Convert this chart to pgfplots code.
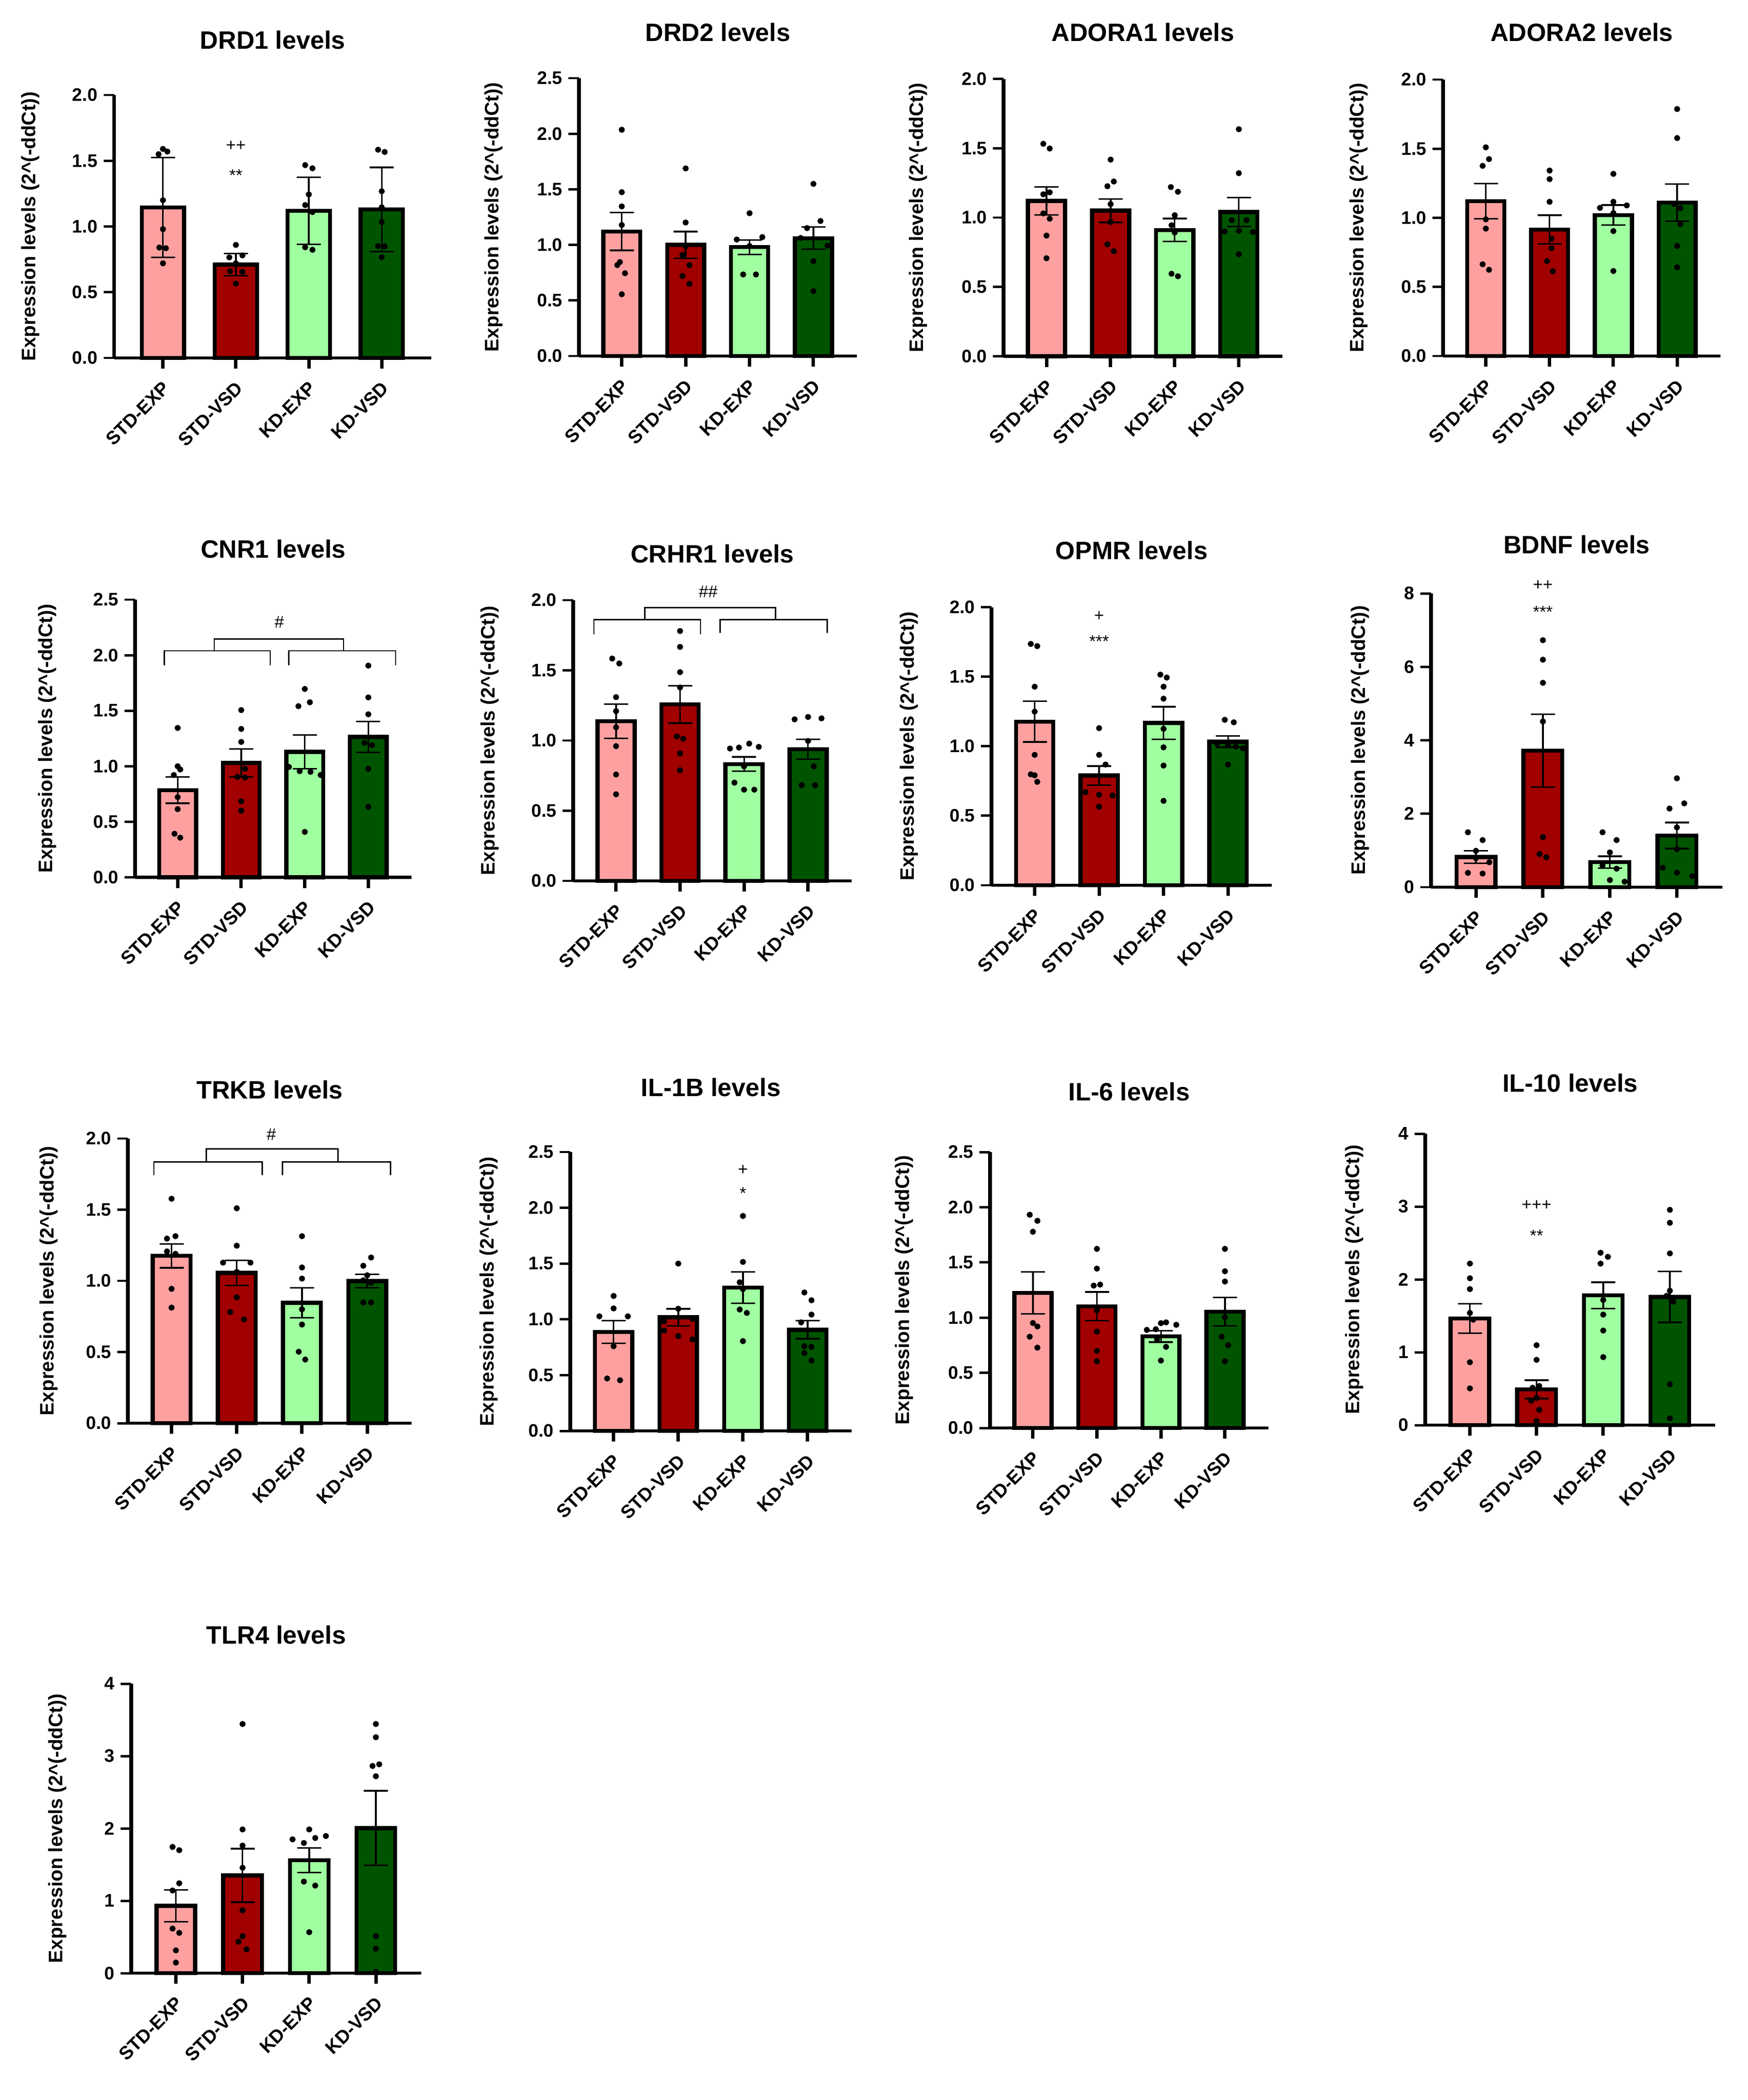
\documentclass[border=0pt]{standalone}
\usepackage{fontspec}
\setmainfont{Liberation Sans}
\usepackage{pgfplots}
\pgfplotsset{compat=1.18}
\definecolor{cA}{HTML}{FFA0A0}
\definecolor{cB}{HTML}{A00000}
\definecolor{cC}{HTML}{A0FFA0}
\definecolor{cD}{HTML}{005400}
\pgfplotsset{
  /pgf/number format/assume math mode=true,
  every axis title shift=0pt,
  panel/.style={
    scale only axis, anchor=south west, clip=false,
    axis x line*=bottom, axis y line*=left,
    xmin=-0.67, xmax=3.68, ymin=0,
    xtick={0,1,2,3}, xticklabels={},
    major tick length=2.2mm, tick align=outside,
    x axis line style={line width=1.9pt},
    y axis line style={line width=2.1pt},
    xtick style={line width=2pt, black},
    ytick style={line width=1.4pt, black},
    yticklabel style={font=\fontsize{10.7}{12}\selectfont\bfseries},
    yticklabel={\pgfmathprintnumber[fixed,fixed zerofill,precision=1,assume math mode=true]{\tick}},
    ylabel={Expression levels (2\textasciicircum(-ddCt))},
    ylabel style={font=\fontsize{11.5}{13}\selectfont\bfseries, anchor=center},
    title style={font=\fontsize{14.8}{17}\selectfont\bfseries, anchor=center},
  },
  intticks/.style={yticklabel={\pgfmathprintnumber[fixed,precision=0,assume math mode=true]{\tick}}},
  ylabsh/.style={ylabel style={at={([xshift=-#1]axis description cs:0,0.5)}}},
  titsh/.style={title style={at={([yshift=#1]axis description cs:0.5,1)}}},
  barsty/.style={ybar, bar shift=0pt, bar width=0.58, draw=black, line width=2.4pt,
    error bars/y dir=both, error bars/y explicit,
    error bars/error bar style={line width=0.95pt, black},
    error bars/error mark options={rotate=90, mark size=2.5mm, line width=0.95pt, black}},
  dotsty/.style={only marks, mark=*, mark size=0.56mm, black},
}
\tikzset{
  catsty/.style={rotate=45, anchor=east, inner sep=0pt, font=\fontsize{11}{12}\selectfont\bfseries},
  annsty/.style={font=\fontsize{10}{11}\selectfont, inner sep=0pt},
  brk/.style={line width=0.8pt},
}
\newcommand{\cats}{%
  \node[catsty] at ([xshift=0.75mm,yshift=-5.55mm]axis cs:0,0) {STD-EXP};
  \node[catsty] at ([xshift=0.75mm,yshift=-5.55mm]axis cs:1,0) {STD-VSD};
  \node[catsty] at ([xshift=0.75mm,yshift=-5.55mm]axis cs:2,0) {KD-EXP};
  \node[catsty] at ([xshift=0.75mm,yshift=-5.55mm]axis cs:3,0) {KD-VSD};
}
\begin{document}
\begin{tikzpicture}
\useasboundingbox (0,0) rectangle (362.2mm,-435.3mm);

% ---------------- DRD1
\begin{axis}[panel, at={(23.65mm,-74.2mm)}, width=65.75mm, height=54.5mm,
  ymax=2, ytick={0,0.5,1,1.5,2}, ylabsh=17.3mm, titsh=11.4mm, title={DRD1 levels}]
\addplot[barsty,fill=cA] coordinates {(0,1.145) +- (0,0.38)};
\addplot[barsty,fill=cB] coordinates {(1,0.71) +- (0,0.085)};
\addplot[barsty,fill=cC] coordinates {(2,1.12) +- (0,0.255)};
\addplot[barsty,fill=cD] coordinates {(3,1.13) +- (0,0.32)};
\addplot[dotsty] coordinates {(-0.06,1.55) (0,1.59) (0.06,1.57) (0,1.20) (0,0.98) (-0.05,0.84) (0.04,0.835) (0,0.72)
 (1,0.86) (0.91,0.765) (1.09,0.78) (1,0.72) (0.92,0.66) (1.09,0.655) (1,0.566)
 (1.95,1.467) (2.05,1.443) (2,1.244) (1.95,1.163) (2.05,1.11) (1.95,0.842) (2.05,0.823)
 (2.95,1.584) (3.04,1.567) (3,1.268) (3,1.146) (3,1.034) (2.95,0.851) (3.04,0.849) (3,0.767)};
\node[annsty] at (axis cs:1,1.615) {++};
\node[annsty] at (axis cs:1,1.39) {**};
\cats
\end{axis}

% ---------------- DRD2
\begin{axis}[panel, at={(120mm,-73.8mm)}, width=57.6mm, height=57.6mm,
  ymax=2.5, ytick={0,0.5,1,1.5,2,2.5}, ylabsh=17.7mm, titsh=9.5mm, title={DRD2 levels}]
\addplot[barsty,fill=cA] coordinates {(0,1.12) +- (0,0.17)};
\addplot[barsty,fill=cB] coordinates {(1,1.0) +- (0,0.12)};
\addplot[barsty,fill=cC] coordinates {(2,0.98) +- (0,0.065)};
\addplot[barsty,fill=cD] coordinates {(3,1.06) +- (0,0.10)};
\addplot[dotsty] coordinates {(0,2.036) (0,1.474) (0,1.346) (0,1.179) (-0.03,0.845) (-0.07,0.818) (0.05,0.745) (0,0.556)
 (1,1.688) (1,1.201) (1,0.987) (0.95,0.909) (1.06,0.818) (0.95,0.72) (1.06,0.65)
 (2,1.285) (1.8,1.048) (2.2,1.07) (2,0.99) (1.9,0.734) (2.1,0.734)
 (3,1.549) (3.11,1.215) (2.9,1.151) (2.8,1.062) (3.22,0.993) (3,0.854) (3,0.584)};
\cats
\end{axis}

% ---------------- ADORA1
\begin{axis}[panel, at={(208mm,-73.85mm)}, width=57.8mm, height=57.5mm,
  ymax=2, ytick={0,0.5,1,1.5,2}, ylabsh=17.7mm, titsh=9.65mm, title={ADORA1 levels}]
\addplot[barsty,fill=cA] coordinates {(0,1.12) +- (0,0.10)};
\addplot[barsty,fill=cB] coordinates {(1,1.05) +- (0,0.085)};
\addplot[barsty,fill=cC] coordinates {(2,0.91) +- (0,0.083)};
\addplot[barsty,fill=cD] coordinates {(3,1.04) +- (0,0.104)};
\addplot[dotsty] coordinates {(-0.05,1.532) (0.05,1.498) (0.05,1.182) (-0.05,1.168) (-0.05,1.03) (0.05,0.992) (0,0.87) (0,0.707)
 (1,1.418) (1.05,1.26) (0.95,1.226) (1,1.097) (1,0.968) (0.95,0.807) (1.05,0.758)
 (1.94,1.22) (2.05,1.186) (2,1.017) (1.95,0.945) (2,0.892) (1.95,0.595) (2.05,0.577)
 (3,1.637) (3,1.32) (2.89,0.981) (3.12,0.981) (2.78,0.90) (3,0.905) (3.22,0.896) (3,0.736)};
\cats
\end{axis}

% ---------------- ADORA2
\begin{axis}[panel, at={(299.1mm,-73.8mm)}, width=57.5mm, height=57.3mm,
  ymax=2, ytick={0,0.5,1,1.5,2}, ylabsh=17.5mm, titsh=9.8mm, title={ADORA2 levels}]
\addplot[barsty,fill=cA] coordinates {(0,1.12) +- (0,0.127)};
\addplot[barsty,fill=cB] coordinates {(1,0.915) +- (0,0.104)};
\addplot[barsty,fill=cC] coordinates {(2,1.02) +- (0,0.072)};
\addplot[barsty,fill=cD] coordinates {(3,1.11) +- (0,0.135)};
\addplot[dotsty] coordinates {(0,1.51) (0.05,1.425) (-0.05,1.376) (0,0.989) (0,0.922) (-0.05,0.664) (0.05,0.624)
 (1,1.342) (1,1.28) (1,1.116) (1.03,0.85) (1.03,0.78) (0.96,0.687) (1.05,0.613)
 (2,1.318) (1.79,1.072) (2,1.116) (2.21,1.09) (2,1.034) (2,0.904) (2,0.615)
 (3,1.787) (3,1.577) (2.95,1.10) (3.05,1.07) (3.05,0.955) (3,0.796) (3,0.642)};
\cats
\end{axis}

% ---------------- CNR1
\begin{axis}[panel, at={(28mm,-181.85mm)}, width=57.3mm, height=57.55mm,
  ymax=2.5, ytick={0,0.5,1,1.5,2,2.5}, ylabsh=18.2mm, titsh=10.55mm, title={CNR1 levels}]
\addplot[barsty,fill=cA] coordinates {(0,0.785) +- (0,0.118)};
\addplot[barsty,fill=cB] coordinates {(1,1.03) +- (0,0.126)};
\addplot[barsty,fill=cC] coordinates {(2,1.13) +- (0,0.152)};
\addplot[barsty,fill=cD] coordinates {(3,1.265) +- (0,0.139)};
\addplot[dotsty] coordinates {(0,1.345) (0,1.0) (0.04,0.971) (-0.06,0.921) (0,0.722) (0,0.614) (-0.05,0.392) (0.04,0.357)
 (1,1.506) (1,1.336) (1,1.219) (1.06,0.977) (0.94,0.904) (1.06,0.898) (1,0.684) (1,0.60)
 (2,1.696) (1.9,1.541) (2.08,1.576) (1.75,0.994) (1.92,0.956) (2.09,0.95) (2.25,0.921) (2,0.409)
 (3,1.906) (3,1.62) (3,1.468) (2.94,1.211) (3.06,1.19) (3,0.977) (3,0.635)};
\draw[brk] (axis cs:-0.21,1.91) |- (axis cs:1.456,2.04) -- (axis cs:1.456,1.91);
\draw[brk] (axis cs:1.75,1.91) |- (axis cs:3.43,2.04) -- (axis cs:3.43,1.91);
\draw[brk] (axis cs:0.575,2.04) |- (axis cs:2.61,2.146) -- (axis cs:2.61,2.04);
\node[annsty] at (axis cs:1.6,2.30) {\#};
\cats
\end{axis}

% ---------------- CRHR1
\begin{axis}[panel, at={(118.8mm,-182.6mm)}, width=57.7mm, height=58.2mm,
  ymax=2, ytick={0,0.5,1,1.5,2}, ylabsh=17.3mm, titsh=9.6mm, title={CRHR1 levels}]
\addplot[barsty,fill=cA] coordinates {(0,1.138) +- (0,0.122)};
\addplot[barsty,fill=cB] coordinates {(1,1.257) +- (0,0.133)};
\addplot[barsty,fill=cC] coordinates {(2,0.832) +- (0,0.051)};
\addplot[barsty,fill=cD] coordinates {(3,0.938) +- (0,0.07)};
\addplot[dotsty] coordinates {(-0.06,1.584) (0.05,1.549) (0,1.309) (0,1.209) (0,1.094) (0,0.96) (0,0.758) (0,0.617)
 (1,1.78) (1,1.667) (1,1.487) (1,1.378) (0.95,1.029) (1.05,1.013) (1,0.909) (1,0.788)
 (1.78,0.943) (1.92,0.95) (2.08,0.978) (2.23,0.955) (1.85,0.70) (2,0.65) (2.16,0.65) (2,0.816)
 (2.79,1.151) (3,1.168) (3.21,1.158) (3,0.997) (3.09,0.816) (2.9,0.682) (3.11,0.682)};
\draw[brk] (axis cs:-0.346,1.757) |- (axis cs:1.32,1.861) -- (axis cs:1.32,1.757);
\draw[brk] (axis cs:1.625,1.767) |- (axis cs:3.30,1.861) -- (axis cs:3.30,1.767);
\draw[brk] (axis cs:0.45,1.861) |- (axis cs:2.49,1.947) -- (axis cs:2.49,1.861);
\node[annsty] at (axis cs:1.44,2.06) {\#\#};
\cats
\end{axis}

% ---------------- OPMR
\begin{axis}[panel, at={(205.5mm,-183.5mm)}, width=58.1mm, height=57.64mm,
  ymax=2, ytick={0,0.5,1,1.5,2}, ylabsh=17.1mm, titsh=11.76mm, title={OPMR levels}]
\addplot[barsty,fill=cA] coordinates {(0,1.177) +- (0,0.146)};
\addplot[barsty,fill=cB] coordinates {(1,0.789) +- (0,0.068)};
\addplot[barsty,fill=cC] coordinates {(2,1.167) +- (0,0.117)};
\addplot[barsty,fill=cD] coordinates {(3,1.033) +- (0,0.041)};
\addplot[dotsty] coordinates {(-0.06,1.736) (0.04,1.72) (0,1.428) (0,1.249) (0,0.938) (-0.06,0.798) (0,0.791) (0.04,0.744)
 (1,1.13) (1,0.938) (1.1,0.868) (0.79,0.67) (1,0.651) (1.21,0.646) (1,0.565)
 (1.95,1.515) (2.05,1.494) (2,1.428) (2,1.342) (2,1.125) (2,0.992) (2,0.861) (2,0.607)
 (2.95,1.19) (3.09,1.172) (2.83,1.02) (3,1.008) (3.12,0.997) (3.23,0.985) (3,0.868)};
\node[annsty] at (axis cs:1,1.935) {+};
\node[annsty] at (axis cs:1,1.755) {***};
\cats
\end{axis}

% ---------------- BDNF
\begin{axis}[panel, intticks, at={(296.6mm,-183.9mm)}, width=60.4mm, height=60.9mm,
  ymax=8, ytick={0,2,4,6,8}, ylabsh=14.7mm, titsh=10.1mm, title={BDNF levels}]
\addplot[barsty,fill=cA] coordinates {(0,0.82) +- (0,0.17)};
\addplot[barsty,fill=cB] coordinates {(1,3.72) +- (0,0.99)};
\addplot[barsty,fill=cC] coordinates {(2,0.68) +- (0,0.16)};
\addplot[barsty,fill=cD] coordinates {(3,1.407) +- (0,0.354)};
\addplot[dotsty] coordinates {(-0.12,1.496) (0.1,1.283) (0,0.99) (0.2,0.68) (-0.12,0.39) (0.1,0.372) (0,0.79)
 (1,6.726) (1,6.195) (1,5.566) (1,4.513) (1,1.363) (0.95,0.903) (1.05,0.814)
 (1.89,1.496) (2.1,1.283) (2,0.947) (1.89,0.593) (2.1,0.504) (2,0.195) (2.22,0.15)
 (3,2.965) (2.89,2.142) (3.11,2.283) (3,1.628) (3,1.035) (2.79,0.531) (3,0.398) (3.23,0.30)};
\node[annsty] at (axis cs:1,8.22) {++};
\node[annsty] at (axis cs:1,7.5) {***};
\cats
\end{axis}

% ---------------- TRKB
\begin{axis}[panel, at={(26.5mm,-295mm)}, width=58.8mm, height=59mm,
  ymax=2, ytick={0,0.5,1,1.5,2}, ylabsh=16.35mm, titsh=10.1mm, title={TRKB levels}]
\addplot[barsty,fill=cA] coordinates {(0,1.176) +- (0,0.084)};
\addplot[barsty,fill=cB] coordinates {(1,1.056) +- (0,0.088)};
\addplot[barsty,fill=cC] coordinates {(2,0.846) +- (0,0.105)};
\addplot[barsty,fill=cD] coordinates {(3,0.998) +- (0,0.047)};
\addplot[dotsty] coordinates {(0,1.577) (-0.07,1.297) (0.06,1.314) (-0.07,1.207) (0.06,1.19) (0,0.944) (0,0.812)
 (1,1.51) (1,1.247) (0.79,1.128) (1.21,1.128) (1,1.063) (1,0.884) (0.9,0.781) (1.11,0.729)
 (2,1.314) (2,1.094) (2,1.016) (2,0.80) (2,0.693) (1.95,0.502) (2.05,0.447)
 (3.06,1.164) (2.94,1.106) (3,1.039) (2.94,1.004) (3.06,0.987) (2.94,0.848) (3.06,0.848)};
\draw[brk] (axis cs:-0.27,1.744) |- (axis cs:1.39,1.837) -- (axis cs:1.39,1.744);
\draw[brk] (axis cs:1.70,1.744) |- (axis cs:3.36,1.837) -- (axis cs:3.36,1.744);
\draw[brk] (axis cs:0.53,1.837) |- (axis cs:2.55,1.928) -- (axis cs:2.55,1.837);
\node[annsty] at (axis cs:1.53,2.03) {\#};
\cats
\end{axis}

% ---------------- IL-1B
\begin{axis}[panel, at={(118.2mm,-296.6mm)}, width=58.3mm, height=57.8mm,
  ymax=2.5, ytick={0,0.5,1,1.5,2,2.5}, ylabsh=16.9mm, titsh=13.4mm, title={IL-1B levels}]
\addplot[barsty,fill=cA] coordinates {(0,0.886) +- (0,0.102)};
\addplot[barsty,fill=cB] coordinates {(1,1.018) +- (0,0.076)};
\addplot[barsty,fill=cC] coordinates {(2,1.284) +- (0,0.14)};
\addplot[barsty,fill=cD] coordinates {(3,0.907) +- (0,0.081)};
\addplot[dotsty] coordinates {(0,1.21) (-0.22,1.027) (0,1.098) (0.22,1.027) (0,0.759) (-0.1,0.47) (0.1,0.454)
 (1,1.5) (1,1.095) (0.78,0.982) (1.22,1.003) (1,0.85) (0.78,0.90) (1.22,0.82)
 (2,1.927) (2,1.515) (1.95,1.332) (2,1.271) (1.95,1.088) (2.06,1.058) (2,0.805)
 (2.95,1.241) (3.06,1.171) (3.06,1.043) (2.9,0.973) (2.95,0.759) (3.06,0.753) (2.95,0.698) (3.06,0.631)};
\node[annsty] at (axis cs:2,2.34) {+};
\node[annsty] at (axis cs:2,2.13) {*};
\cats
\end{axis}

% ---------------- IL-6
\begin{axis}[panel, at={(205.2mm,-296mm)}, width=57.7mm, height=57.2mm,
  ymax=2.5, ytick={0,0.5,1,1.5,2,2.5}, ylabsh=17.8mm, titsh=12.5mm, title={IL-6 levels}]
\addplot[barsty,fill=cA] coordinates {(0,1.225) +- (0,0.19)};
\addplot[barsty,fill=cB] coordinates {(1,1.102) +- (0,0.13)};
\addplot[barsty,fill=cC] coordinates {(2,0.83) +- (0,0.052)};
\addplot[barsty,fill=cD] coordinates {(3,1.054) +- (0,0.128)};
\addplot[dotsty] coordinates {(-0.05,1.932) (0.07,1.877) (0,1.778) (0,0.951) (0.07,0.92) (-0.05,0.827) (0.07,0.728)
 (1,1.623) (1,1.444) (0.95,1.29) (1.05,1.299) (1,1.065) (1,0.873) (1,0.698) (1,0.605)
 (1.78,0.889) (1.92,0.895) (2.08,0.957) (2.24,0.935) (2,0.95) (1.94,0.802) (2.08,0.735) (2,0.611)
 (3,1.623) (3,1.42) (3,1.327) (3,1.003) (2.95,0.827) (3.05,0.75) (3,0.605)};
\cats
\end{axis}

% ---------------- IL-10
\begin{axis}[panel, intticks, at={(295.4mm,-295.4mm)}, width=60.1mm, height=60.4mm,
  ymax=4, ytick={0,1,2,3,4}, ylabsh=14.7mm, titsh=10.5mm, title={IL-10 levels}]
\addplot[barsty,fill=cA] coordinates {(0,1.463) +- (0,0.203)};
\addplot[barsty,fill=cB] coordinates {(1,0.49) +- (0,0.126)};
\addplot[barsty,fill=cC] coordinates {(2,1.78) +- (0,0.18)};
\addplot[barsty,fill=cD] coordinates {(3,1.76) +- (0,0.35)};
\addplot[dotsty] coordinates {(0,2.217) (0,2.016) (0,1.867) (0,1.54) (0.05,1.447) (0,0.863) (0,0.504)
 (1,1.097) (1,0.896) (0.94,0.513) (1.04,0.537) (1,0.373) (0.92,0.336) (1.04,0.21) (1,0.056)
 (1.96,2.366) (2.07,2.31) (1.96,2.217) (2,1.718) (2,1.517) (2,1.298) (2,0.933)
 (3,2.955) (3,2.777) (3,2.357) (3,1.844) (2.95,1.774) (3.05,1.694) (3,0.56) (3,0.093)};
\node[annsty] at (axis cs:1,3.02) {+++};
\node[annsty] at (axis cs:1,2.6) {**};
\cats
\end{axis}

% ---------------- TLR4
\begin{axis}[panel, intticks, at={(27.2mm,-409mm)}, width=60.1mm, height=60mm,
  ymax=4, ytick={0,1,2,3,4}, ylabsh=15.3mm, titsh=10.1mm, title={TLR4 levels}]
\addplot[barsty,fill=cA] coordinates {(0,0.93) +- (0,0.22)};
\addplot[barsty,fill=cB] coordinates {(1,1.35) +- (0,0.37)};
\addplot[barsty,fill=cC] coordinates {(2,1.56) +- (0,0.17)};
\addplot[barsty,fill=cD] coordinates {(3,2.005) +- (0,0.516)};
\addplot[dotsty] coordinates {(-0.05,1.744) (0.05,1.699) (0.05,1.242) (-0.05,1.142) (-0.05,0.616) (0.05,0.557) (0,0.315) (0,0.146)
 (1,3.443) (1,1.986) (1,1.763) (1,1.457) (1,0.868) (1,0.511) (0.94,0.434) (1.06,0.329)
 (2,1.986) (1.75,1.849) (1.92,1.799) (2.09,1.868) (2.25,1.895) (1.92,1.265) (2.09,1.21) (2,0.566)
 (3,3.443) (3,3.26) (2.95,2.863) (3.05,2.886) (3,2.721) (3,0.511) (3,0.338) (3,0.018)};
\cats
\end{axis}

\end{tikzpicture}
\end{document}
